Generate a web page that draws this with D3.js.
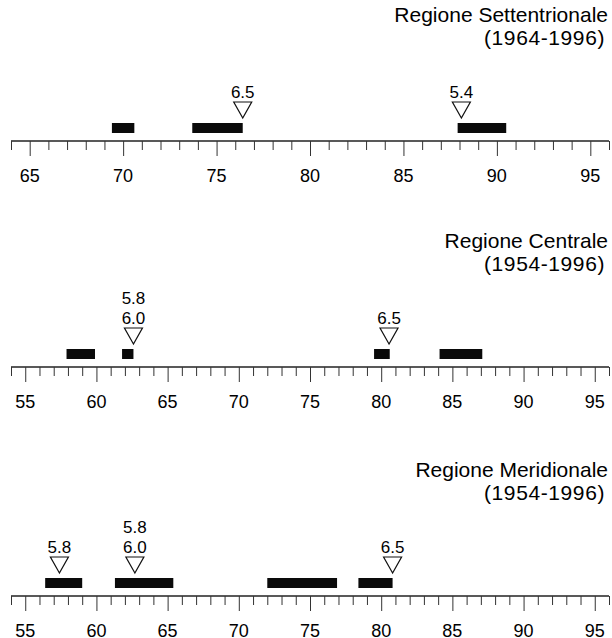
<!DOCTYPE html>
<html>
<head>
<meta charset="utf-8">
<script src="https://cdn.jsdelivr.net/npm/d3@7"></script>
<style>
  html, body { margin: 0; padding: 0; background: #fff; }
  svg { display: block; font-family: "Liberation Sans", Arial, sans-serif; }
</style>
</head>
<body>
<svg id="chart" width="612" height="638"></svg>
<script>
// Region titles and observation periods
const titles = ["Regione Settentrionale", "Regione Centrale", "Regione Meridionale"];
const periods = ["(1964-1996)", "(1954-1996)", "(1954-1996)"];

// Axis extents (one tick per unit) and labelled ticks
const domains = [[64, 96], [54, 96], [54, 96]];
const tickLabels = [
    [65, 70, 75, 80, 85, 90, 95],
    [55, 60, 65, 70, 75, 80, 85, 90, 95],
    [55, 60, 65, 70, 75, 80, 85, 90, 95]
];

// Black bars: [start, end] on the axis
const northBars = [[69.4, 70.6], [73.7, 76.4], [87.9, 90.5]];
const centralBars = [[57.9, 59.9], [61.8, 62.6], [79.5, 80.6], [84.1, 87.1]];
const southBars = [[56.4, 59.0], [61.3, 65.4], [72.0, 76.9], [78.4, 80.8]];

// Triangle markers: position and magnitude labels (top to bottom)
const northMarks = [{ x: 76.4, labels: ["6.5"] }, { x: 88.1, labels: ["5.4"] }];
const centralMarks = [{ x: 62.6, labels: ["5.8", "6.0"] }, { x: 80.55, labels: ["6.5"] }];
const southMarks = [{ x: 57.4, labels: ["5.8"] }, { x: 62.7, labels: ["5.8", "6.0"] }, { x: 80.8, labels: ["6.5"] }];

const allBars = [northBars, centralBars, southBars];
const allMarks = [northMarks, centralMarks, southMarks];
const axisY = [141, 367, 596];

const svg = d3.select("#chart");

/**
 * Draws one region panel: title, bars, triangles and the unit-tick axis.
 */
function panel(i) {
    const y0 = axisY[i];
    const [lo, hi] = domains[i];

    const x = d3.scaleLinear()
        .domain([lo, hi])
        .range([11, 609]);

    const g = svg.append("g");

    // Title, right aligned
    g.append("text")
        .attr("x", 608)
        .attr("y", y0 - 119)
        .attr("text-anchor", "end")
        .style("font-size", "21px")
        .text(titles[i]);

    g.append("text")
        .attr("x", 605)
        .attr("y", y0 - 96)
        .attr("text-anchor", "end")
        .style("font-size", "21px")
        .style("letter-spacing", "0.6px")
        .text(periods[i]);

    // Axis: minor ticks every unit, longer ticks every 5
    const ticks = d3.range(lo, hi + 1);
    const axis = d3.axisBottom(x)
        .tickValues(ticks)
        .tickSize(9)
        .tickFormat("");

    const ax = g.append("g")
        .attr("transform", `translate(0, ${y0})`)
        .call(axis);

    ax.select(".domain")
        .attr("d", `M${x(lo)},0H${x(hi)}`)
        .attr("stroke", "#222")
        .attr("stroke-width", 1.6);

    ax.selectAll(".tick line")
        .attr("stroke", "#333")
        .attr("stroke-width", 1)
        .attr("y2", d => tickLabels[i].includes(d) ? 15 : 9);

    // Tick labels
    g.selectAll(".lbl")
        .data(tickLabels[i])
        .enter().append("text")
        .attr("x", d => x(d))
        .attr("y", y0 + 41)
        .attr("text-anchor", "middle")
        .style("font-size", "18px")
        .text(d => d);

    // Bars
    g.selectAll(".bar")
        .data(allBars[i])
        .enter().append("rect")
        .attr("x", d => x(d[0]))
        .attr("y", y0 - 18)
        .attr("width", d => x(d[1]) - x(d[0]))
        .attr("height", 10)
        .attr("fill", "#0a0a0a");

    // Triangles with labels
    const marks = g.selectAll(".mark")
        .data(allMarks[i])
        .enter().append("g")
        .attr("transform", d => `translate(${x(d.x)}, ${y0 - 23})`);

    marks.append("path")
        .attr("d", "M0,0L-9,-16L9,-16Z")
        .attr("fill", "#fff")
        .attr("stroke", "#111")
        .attr("stroke-width", 1.2);

    marks.each(function(d) {
        const n = d.labels.length;
        d.labels.forEach((t, k) => {
            d3.select(this).append("text")
                .attr("x", 0)
                .attr("y", -20 - (n - 1 - k) * 20)
                .attr("text-anchor", "middle")
                .style("font-size", "17px")
                .style("font-family", "'Liberation Sans Narrow', 'Liberation Sans', Arial, sans-serif")
                .text(t);
        });
    });
}

[0, 1, 2].forEach(panel);
</script>
</body>
</html>
